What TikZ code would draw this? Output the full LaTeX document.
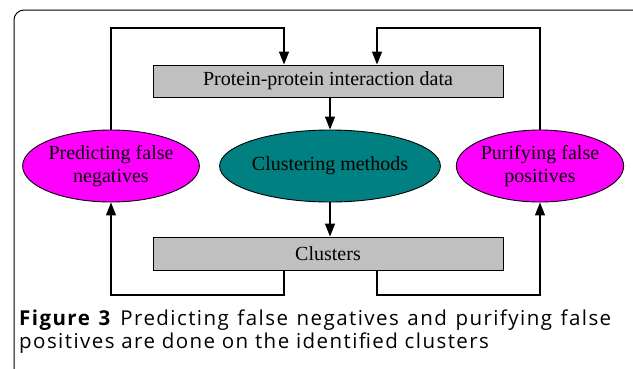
\documentclass[tikz,border=0pt]{standalone}
\usepackage{fontspec}
\setmainfont{Liberation Serif}
\newfontfamily\capfont{Open Sans}[LetterSpace=7]
\usetikzlibrary{shapes.geometric,arrows.meta}
\definecolor{boxgray}{RGB}{192,192,192}
\definecolor{methteal}{RGB}{0,128,128}
\definecolor{predmag}{RGB}{255,0,255}
\begin{document}
\begin{tikzpicture}[x=1pt,y=-1pt,
  databox/.style={draw,fill=boxgray,line width=0.9pt,minimum width=350pt,minimum height=32pt,inner sep=0pt,font=\fontsize{20}{23}\selectfont},
  oval/.style={draw,ellipse,line width=0.9pt,minimum width=154pt,minimum height=72pt,inner sep=0pt,align=center,font=\fontsize{20}{23}\selectfont},
  flow/.style={line width=1.3pt,-{Triangle[length=13pt,width=10pt]}}]
\useasboundingbox (0,0) rectangle (633,368);
\begin{scope}
\clip (0,0) rectangle (633,368);
\draw[line width=1pt,rounded corners=10pt] (14,10) rectangle (645,378);
\end{scope}
\node[databox] (ppi) at (328,81) {Protein-protein interaction data};
\node[oval,fill=methteal,minimum width=206pt] (meth) at (330,166) {Clustering methods};
\node[oval,fill=predmag] (neg) at (111,166) {Predicting false\\negatives};
\node[oval,fill=predmag] (pos) at (540,166) {Purifying false\\positives};
\node[databox,minimum height=33pt] (clu) at (328,253.5) {Clusters};
\coordinate (ta) at (284,28);
\coordinate (tb) at (377,28);
\coordinate (ba) at (284,295);
\coordinate (bb) at (377,295);
\draw[flow] (ppi.south -| meth.north) -- (meth.north);
\draw[flow] (meth.south) -- (meth.south |- clu.north);
\draw[flow] (neg.north) |- (ta) -- (ta |- ppi.north);
\draw[flow] (pos.north) |- (tb) -- (tb |- ppi.north);
\draw[flow] (ba |- clu.south) -- (ba) -| (neg.south);
\draw[flow] (bb |- clu.south) -- (bb) -| (pos.south);
\node[anchor=north west,text width=592pt,align=justify,inner sep=0pt,
  font=\capfont\fontsize{20.5}{23}\selectfont] (cap) at (19,310)
  {\textbf{Figure 3} Predicting false negatives and purifying false\linebreak positives are done on the identified clusters};
\end{tikzpicture}
\end{document}
